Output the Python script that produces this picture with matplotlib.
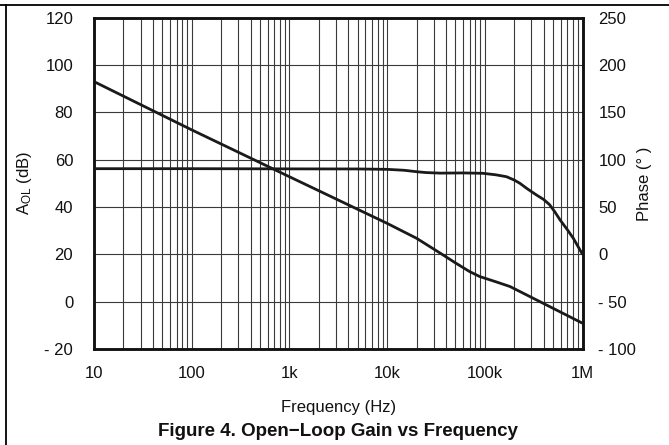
import matplotlib
matplotlib.use("Agg")
import matplotlib.pyplot as plt
from matplotlib.lines import Line2D
from matplotlib.ticker import FixedLocator, FixedFormatter, NullFormatter, LogLocator

plt.rcParams['font.family'] = ['Liberation Sans', 'DejaVu Sans']
plt.rcParams['mathtext.default'] = 'regular'

# ---- data ----
gain_freq = [10, 100, 1000, 10000, 20000, 35000, 50000, 70000, 89000, 130000, 181000, 367000, 1000000]
gain_db = [93.0, 72.6, 52.8, 33.1, 26.8, 20.5, 16.4, 12.7, 10.6, 8.4, 6.4, 0.0, -9.1]

phase_freq = [10, 100, 1000, 5000, 10000, 15000, 20000, 25000, 35000, 60000, 96000, 130000, 167000,
              200000, 229000, 270000, 338000, 400000, 460000, 520000, 590000, 700000, 805000, 1000000]
phase_deg = [90.5, 90.5, 90.3, 90.2, 89.8, 88.8, 87.3, 86.4, 85.8, 86.0, 85.6, 84.0, 82.0,
             78.5, 75.0, 69.5, 62.7, 58.0, 52.5, 45.0, 36.3, 26.0, 17.0, 0.0]

x_ticks = [10, 100, 1000, 10000, 100000, 1000000]
x_labels = ['10', '100', '1k', '10k', '100k', '1M']
left_ticks = [-20, 0, 20, 40, 60, 80, 100, 120]
left_labels = ['- 20', '0', '20', '40', '60', '80', '100', '120']
right_ticks = [-100, -50, 0, 50, 100, 150, 200, 250]
right_labels = ['- 100', '- 50', '0', '50', '100', '150', '200', '250']

W, H = 669, 445
fig = plt.figure(figsize=(W / 100, H / 100), dpi=100)
ax = fig.add_axes([94 / W, 1 - 349 / H, (582.5 - 94) / W, (349 - 17.7) / H])
ax2 = ax.twinx()

grid_c = '#3a3a3a'
ax.set_xscale('log')
ax.set_xlim(10, 1e6)
ax.set_ylim(-20, 120)
ax2.set_ylim(-100, 250)

ax.xaxis.set_major_locator(FixedLocator(x_ticks))
ax.xaxis.set_major_formatter(FixedFormatter(x_labels))
ax.xaxis.set_minor_locator(LogLocator(base=10, subs=range(2, 10), numticks=50))
ax.xaxis.set_minor_formatter(NullFormatter())
ax.yaxis.set_major_locator(FixedLocator(left_ticks))
ax.yaxis.set_major_formatter(FixedFormatter(left_labels))
ax2.yaxis.set_major_locator(FixedLocator(right_ticks))
ax2.yaxis.set_major_formatter(FixedFormatter(right_labels))

ax.grid(True, which='both', axis='x', color=grid_c, lw=0.8)
ax.grid(True, which='major', axis='y', color=grid_c, lw=0.8)
ax.set_axisbelow(True)

fs = 12
for a in (ax, ax2):
    a.tick_params(which='both', length=0, labelsize=fs, colors='#111111')
    for s in a.spines.values():
        s.set_linewidth(1.8)
        s.set_color('#111111')
ax.tick_params(axis='y', pad=15)
ax.tick_params(axis='x', pad=12)
ax2.tick_params(axis='y', pad=11.5)

ax.plot(gain_freq, gain_db, color='#1a1a1a', lw=2.0, solid_capstyle='butt', clip_on=False, zorder=5)
ax2.plot(phase_freq, phase_deg, color='#1a1a1a', lw=2.0, solid_capstyle='butt', clip_on=False, zorder=5)

ax.set_ylabel('A$_{OL}$ (dB)', fontsize=fs, color='#111111')
ax2.set_ylabel('Phase (° )', fontsize=fs, color='#111111')
ax.yaxis.set_label_coords((34 - 94) / 488.5, 0.5)
ax2.yaxis.set_label_coords((637 - 94) / 488.5, 0.5)
ax.set_xlabel('Frequency (Hz)', fontsize=fs, labelpad=14, color='#111111')

fig.text(0.5 * (94 + 582.5) / W, 1 - 432 / H, 'Figure 4. Open\u2212Loop Gain vs Frequency',
         ha='center', va='center', fontsize=13.5, fontweight='bold', color='#111111')

# page frame lines
fig.add_artist(Line2D([0, 1], [1 - 4.5 / H, 1 - 4.5 / H], transform=fig.transFigure, color='black', lw=1.3))
fig.add_artist(Line2D([6 / W, 6 / W], [0, 1 - 4.5 / H], transform=fig.transFigure, color='black', lw=1.3))

fig.savefig('out.png', dpi=100)
